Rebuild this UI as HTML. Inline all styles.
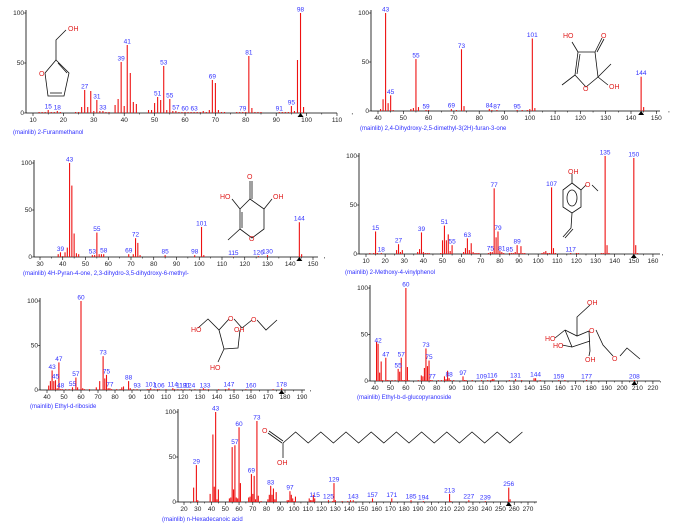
<!DOCTYPE html>
<html><head><meta charset="utf-8">
<style>
html,body{margin:0;padding:0;background:#fff;}
svg{display:block;font-family:"Liberation Sans",sans-serif;}
.tk{font-size:6.5px;fill:#222;}
.pl{font-size:6.5px;fill:#3030ff;}
.ti{font-size:6px;fill:#3030ff;}
.st{stroke:#111;stroke-width:0.8;fill:none;}
.at{font-size:7px;fill:#e02020;}
</style></head><body>
<svg id="chart" width="679" height="525" viewBox="0 0 679 525">
<g id="structs">
<g>
<polyline class="st" points="56,60 56,40 66,30"/>
<polygon class="st" points="56,60 69,73 64,96 48,96 45,73"/>
<line class="st" x1="58" y1="63" x2="67" y2="73"/><line class="st" x1="50" y1="93" x2="62" y2="93"/>
<text class="at" x="68" y="31">OH</text><text class="at" x="39" y="76">O</text>
</g>
<g>
<polygon class="st" points="578,52 595,52 598,77 586,87 575,75"/>
<line class="st" x1="580" y1="54" x2="577" y2="74"/>
<polyline class="st" points="578,52 572,42"/><polyline class="st" points="595,52 602,38"/><polyline class="st" points="597,52 604,39"/>
<polyline class="st" points="575,75 562,85"/><polyline class="st" points="598,77 611,64"/><polyline class="st" points="598,77 608,85"/>
<text class="at" x="563" y="38">HO</text><text class="at" x="601" y="38">O</text><text class="at" x="583" y="91">O</text><text class="at" x="609" y="89">OH</text>
</g>
<g>
<polygon class="st" points="250,199 264,209 264,229 252,238 240,229 240,209"/>
<line class="st" x1="242" y1="212" x2="242" y2="228"/>
<polyline class="st" points="250,199 250,181"/><polyline class="st" points="252,199 252,181"/>
<polyline class="st" points="240,209 232,199"/><polyline class="st" points="264,209 272,199"/><polyline class="st" points="240,229 228,240"/>
<text class="at" x="247" y="179">O</text><text class="at" x="220" y="199">HO</text><text class="at" x="273" y="199">OH</text><text class="at" x="249" y="241">O</text>
</g>
<g>
<polygon class="st" points="572,183 581,190 581,207 572,213 563,207 563,190"/>
<ellipse class="st" cx="572" cy="198" rx="5" ry="8"/>
<polyline class="st" points="572,183 572,174"/><polyline class="st" points="581,190 586,185"/><polyline class="st" points="592,185 598,191"/>
<polyline class="st" points="572,213 571,228 563,237"/><line class="st" x1="573" y1="229" x2="565" y2="238"/>
<text class="at" x="568" y="174">OH</text><text class="at" x="585" y="187">O</text>
</g>
<g>
<polyline class="st" points="198,328 208,319 219,330 229,319"/>
<polyline class="st" points="234,319 242,328 252,320"/>
<polyline class="st" points="257,320 266,330 277,320"/>
<polyline class="st" points="219,330 224,349 238,348 240,330"/>
<polyline class="st" points="224,349 218,362"/>
<text class="at" x="191" y="332">HO</text><text class="at" x="228" y="321">O</text><text class="at" x="234" y="332">OH</text><text class="at" x="251" y="322">O</text><text class="at" x="210" y="370">HO</text>
</g>
<g>
<polyline class="st" points="590,305 577,317 577,336"/>
<polyline class="st" points="565,330 577,336 589,331"/>
<polyline class="st" points="596,330 603,345 613,356"/>
<polyline class="st" points="589,331 590,351 589,356"/>
<polyline class="st" points="565,330 572,347 590,341"/>
<polyline class="st" points="555,338 565,330"/><polyline class="st" points="562,345 572,347"/>
<polyline class="st" points="620,356 627,348 640,359"/>
<text class="at" x="587" y="305">OH</text><text class="at" x="589" y="333">O</text><text class="at" x="545" y="341">HO</text><text class="at" x="553" y="348">HO</text><text class="at" x="585" y="362">OH</text><text class="at" x="612" y="361">O</text>
</g>
<g>
<polyline id="chain" class="st" points=""/>
<line class="st" x1="269" y1="431" x2="283" y2="441"/><line class="st" x1="268" y1="433" x2="282" y2="443"/>
<line class="st" x1="283" y1="443" x2="283" y2="458"/>
<text class="at" x="262" y="433">O</text><text class="at" x="277" y="465">OH</text>
</g>
</g>
<g id="plots"></g>
</svg>
<script>
// Panel 1: 2-Furanmethanol
const p1Mz=[12,13,14,15,16,17,18,19,24,25,26,27,28,29,30,31,32,33,34,35,37,38,39,40,41,42,43,44,48,49,50,51,52,53,54,55,56,57,58,59,60,61,62,63,64,65,66,67,68,69,70,71,72,73,77,78,79,80,81,82,83,84,85,91,92,93,94,95,96,97,98,99];
const p1Int=[1,1,1,3,1,1,2,1,1,1,6,23,6,22,2,13,2,2,1,1,8,14,51,7,68,40,11,9,3,3,10,16,13,47,3,14,2,2,1,1,1,1,1,1,1,1,2,1,3,33,30,3,1,1,1,1,1,1,57,5,1,1,1,1,1,1,1,7,2,53,100,6];
const p1Labels=[15,18,27,31,33,39,41,51,53,55,57,60,63,69,79,81,91,95,98];
// Panel 2: 2,4-Dihydroxy-2,5-dimethyl-3(2H)-furan-3-one
const p2Mz=[41,42,43,44,45,46,53,54,55,56,59,60,69,71,73,74,84,85,87,95,97,99,100,101,102,144,145];
const p2Int=[2,12,100,8,16,1,2,3,53,4,1,1,2,1,63,5,2,1,1,1,1,1,2,74,3,35,4];
const p2Labels=[43,45,55,59,69,73,84,87,95,101,144];
// Panel 3: 4H-Pyran-4-one
const p3Mz=[38,39,40,41,42,43,44,45,46,47,53,54,55,56,57,58,69,71,72,73,74,85,98,101,102,115,126,130,144,145];
const p3Int=[3,5,1,5,10,100,76,25,4,3,2,2,26,3,3,3,3,3,20,15,2,2,2,32,2,0.5,1,2,37,3];
const p3Labels=[39,43,53,55,58,69,72,85,98,101,115,126,130,144];
// Panel 4: 2-Methoxy-4-vinylphenol
const p4Mz=[12,14,15,16,18,26,27,28,29,37,38,39,40,41,42,43,49,50,51,52,53,54,55,61,62,63,64,65,66,67,68,69,74,75,76,77,78,79,80,81,82,85,86,87,88,89,90,91,92,93,102,103,104,105,106,107,108,109,117,120,121,133,134,135,136,137,150,151,152];
const p4Int=[1,1,23,1,1,4,10,2,4,2,5,22,2,1,1,1,1,14,29,14,20,3,9,2,6,16,4,11,2,1,1,1,1,2,2,67,17,23,3,2,1,1,1,1,2,9,1,8,1,1,1,2,3,1,1,68,6,1,1,1,1,1,1,100,9,1,98,9,1];
const p4Labels=[15,18,27,39,51,55,63,75,77,79,81,85,89,107,117,135,150];
// Panel 5: Ethyl-d-riboside
const p5Mz=[41,42,43,44,45,46,47,48,49,51,53,55,57,58,60,61,62,65,69,71,73,74,75,76,77,78,81,83,84,85,88,89,91,93,99,100,101,103,105,106,110,114,115,117,119,121,124,127,130,132,133,135,141,145,147,150,157,160,173,178];
const p5Int=[5,10,22,10,11,2,31,1,1,1,1,3,14,3,100,2,1,1,3,10,38,13,17,2,2,1,1,1,3,4,10,2,1,1,1,1,2,1,1,1,1,2,1,1,1,1,1,1,1,2,1,1,1,1,2,1,1,1,1,2];
const p5Labels=[43,45,47,48,55,57,60,73,75,77,88,93,101,106,114,119,121,124,133,147,160,178];
// Panel 6: Ethyl-b-d-glucopyranoside
const p6Mz=[41,42,43,44,45,47,48,49,51,53,55,56,57,58,59,60,61,62,68,70,71,72,73,74,75,76,77,81,83,85,86,87,88,89,91,97,98,99,103,109,113,115,116,117,127,131,135,143,144,147,159,163,177,208];
const p6Int=[42,40,9,21,1,25,1,1,1,1,13,10,25,1,1,100,15,1,1,6,5,14,35,16,22,1,1,1,1,5,2,11,3,1,1,5,1,1,1,1,1,1,2,2,1,2,1,3,3,1,1,1,1,1];
const p6Labels=[42,47,55,57,60,73,75,77,88,97,109,116,131,144,159,177,208];
// Panel 7: n-Hexadecanoic acid
const p7Mz=[27,29,30,39,41,42,43,44,45,53,54,55,56,57,58,59,60,61,67,68,69,70,71,72,73,74,76,81,82,83,84,85,86,87,95,96,97,98,99,100,101,111,112,113,114,115,125,128,129,130,135,139,141,143,157,171,185,194,213,214,227,239,256,257];
const p7Int=[16,41,2,9,75,17,100,3,14,4,5,61,14,63,5,4,83,21,5,6,31,9,29,3,90,7,1,3,8,18,8,15,3,11,2,2,12,8,4,1,6,4,2,2,8,4,2,1,21,2,1,1,2,2,4,4,2,1,9,1,2,1,16,3];
const p7Labels=[29,43,57,60,69,73,83,97,115,125,129,143,157,171,185,194,213,227,239,256];

const panels=[
 {name:'2-furanmethanol',mz:p1Mz,it:p1Int,lab:p1Labels,m0:10,px0:33,ppu:3.04,yb:113,yt:13,ax:26,aEnd:337,tMin:10,tMax:110,mark:98,title:'(mainlib) 2-Furanmethanol',tx:13,ty:134},
 {name:'furanone',mz:p2Mz,it:p2Int,lab:p2Labels,m0:40,px0:378,ppu:2.53,yb:111,yt:13,ax:371,aEnd:660,tMin:40,tMax:150,mark:144,title:'(mainlib) 2,4-Dihydroxy-2,5-dimethyl-3(2H)-furan-3-one',tx:360,ty:130},
 {name:'pyranone',mz:p3Mz,it:p3Int,lab:p3Labels,m0:30,px0:40,ppu:2.275,yb:257,yt:163,ax:34,aEnd:318,tMin:30,tMax:150,mark:144,title:'(mainlib) 4H-Pyran-4-one, 2,3-dihydro-3,5-dihydroxy-6-methyl-',tx:23,ty:275},
 {name:'methoxyvinylphenol',mz:p4Mz,it:p4Int,lab:p4Labels,m0:10,px0:366,ppu:1.913,yb:254,yt:156,ax:359,aEnd:660,tMin:10,tMax:160,mark:150,title:'(mainlib) 2-Methoxy-4-vinylphenol',tx:345,ty:274},
 {name:'ethyl-riboside',mz:p5Mz,it:p5Int,lab:p5Labels,m0:40,px0:47,ppu:1.7,yb:390,yt:301,ax:40,aEnd:305,tMin:40,tMax:190,mark:178,title:'(mainlib) Ethyl-d-riboside',tx:30,ty:408},
 {name:'ethyl-glucopyranoside',mz:p6Mz,it:p6Int,lab:p6Labels,m0:40,px0:375,ppu:1.544,yb:381,yt:288,ax:370,aEnd:660,tMin:40,tMax:220,mark:208,title:'(mainlib) Ethyl-b-d-glucopyranoside',tx:357,ty:399},
 {name:'hexadecanoic-acid',mz:p7Mz,it:p7Int,lab:p7Labels,m0:20,px0:184,ppu:1.376,yb:502,yt:412,ax:178,aEnd:537,tMin:20,tMax:270,mark:256,title:'(mainlib) n-Hexadecanoic acid',tx:162,ty:521}
];
const NS='http://www.w3.org/2000/svg';
const root=document.getElementById('plots');
function mk(tag,attrs,parent){const e=document.createElementNS(NS,tag);for(const k in attrs)e.setAttribute(k,attrs[k]);parent.appendChild(e);return e;}
panels.forEach(p=>{
 const g=mk('g',{},root);
 
 
 const X=m=>p.px0+(m-p.m0)*p.ppu;
 const Y=v=>p.yb-(v/100)*(p.yb-p.yt);
 const ya=mk('line',{x1:p.ax,y1:p.yt-3,x2:p.ax,y2:p.yb,stroke:'#000','stroke-width':0.8},g);
 
 
 const xa=mk('line',{x1:p.ax,y1:p.yb,x2:p.aEnd,y2:p.yb,stroke:'#000','stroke-width':0.8},g);
 
 
 [0,50,100].forEach(v=>{
  mk('line',{x1:p.ax-2,y1:Y(v),x2:p.ax,y2:Y(v),stroke:'#000','stroke-width':0.6},g);
  const t=mk('text',{x:p.ax-2,y:Y(v)+2,'text-anchor':'end',class:'tk'},g);t.textContent=v;
  
  
 });
 for(let m=p.tMin;m<=p.tMax;m+=10){
  mk('line',{x1:X(m),y1:p.yb,x2:X(m),y2:p.yb+3,stroke:'#000','stroke-width':0.6},g);
  if(m+5<=p.tMax+5) mk('line',{x1:X(m+5),y1:p.yb,x2:X(m+5),y2:p.yb+1.5,stroke:'#000','stroke-width':0.5},g);
  const t=mk('text',{x:X(m),y:p.yb+9,'text-anchor':'middle',class:'tk'},g);t.textContent=m;
  
  
 }
 p.mz.forEach((m,i)=>{
  const b=mk('line',{x1:X(m),y1:p.yb,x2:X(m),y2:Y(p.it[i]),stroke:'#ee1111','stroke-width':1.1},g);
  
  
 });
 p.lab.forEach(m=>{
  const i=p.mz.indexOf(m);const v=i>=0?p.it[i]:0;
  const t=mk('text',{x:X(m),y:Y(v)-1.5,'text-anchor':'middle',class:'pl'},g);t.textContent=m;
  
  
 });
 const mx=X(p.mark);
 const tri=mk('polygon',{points:`${mx-3},${p.yb+4} ${mx+3},${p.yb+4} ${mx},${p.yb}`,fill:'#000'},g);
 
 
 const tt=mk('text',{x:p.tx,y:p.ty,class:'ti'},g);tt.textContent=p.title;
 
 
});
// fatty-acid chain zigzag (structure drawing)
let pts=['283,443'];for(let k=1;k<=19;k++){pts.push((283+k*12.6).toFixed(1)+','+(k%2?432:443));}
document.getElementById('chain').setAttribute('points',pts.join(' '));
</script>
</body></html>
